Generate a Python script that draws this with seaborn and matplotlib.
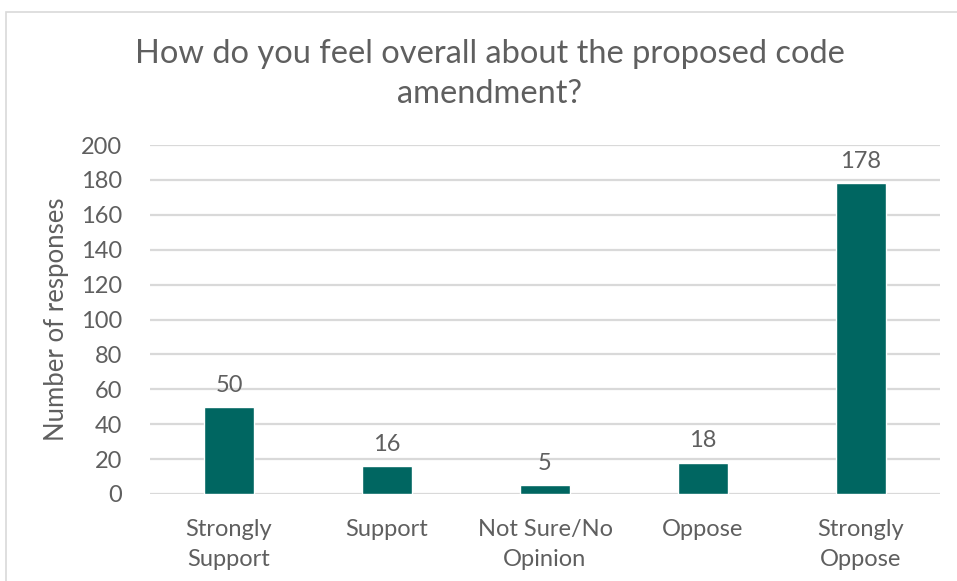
import matplotlib
matplotlib.use("Agg")
import matplotlib.pyplot as plt
from matplotlib.patches import Rectangle
import seaborn as sns
import pandas as pd

categories = ["Strongly\nSupport", "Support", "Not Sure/No\nOpinion", "Oppose", "Strongly\nOppose"]
responses = [50, 16, 5, 18, 178]
y_ticks = [0, 20, 40, 60, 80, 100, 120, 140, 160, 180, 200]

df = pd.DataFrame({"category": categories, "responses": responses})

sns.set_theme(style="white")
plt.rcParams["font.family"] = ["Lato", "DejaVu Sans"]

text_color = "#5f5f5f"
grid_color = "#d9d9d9"
bar_color = "#006661"
fs = 17

fig = plt.figure(figsize=(9.57, 5.81), dpi=100)
ax = fig.add_axes([150 / 957, 1 - 494 / 581, 790 / 957, 349 / 581])

sns.barplot(data=df, x="category", y="responses", color=bar_color,
            width=0.32, saturation=1, ax=ax)

ax.set_ylim(0, 200)
ax.set_yticks(y_ticks)
ax.set_yticklabels([str(t) for t in y_ticks], fontsize=fs, color=text_color)
ax.set_xticklabels(categories, fontsize=fs, color=text_color, linespacing=1.55)
ax.tick_params(axis="x", length=0, pad=18)
ax.tick_params(axis="y", length=0, pad=20)
ax.set_xlabel("")
ax.set_ylabel("Number of responses", fontsize=18.5, color=text_color)
ax.yaxis.set_label_coords(-0.103, 0.5)

ax.grid(axis="y", color=grid_color, linewidth=1.6)
ax.set_axisbelow(True)
for s in ax.spines.values():
    s.set_visible(False)

for p, v in zip(ax.patches, responses):
    ax.annotate(str(v), (p.get_x() + p.get_width() / 2, v), xytext=(0, 8),
                textcoords="offset points", ha="center", va="bottom",
                fontsize=fs, color=text_color)

fig.text(490 / 957, 1 - 74 / 581,
         "How do you feel overall about the proposed code\namendment?",
         ha="center", va="center", fontsize=23.5, color=text_color,
         linespacing=1.4)

# light outer frame around the chart area
fig.patches.append(Rectangle((6 / 957, -0.05), 1.0, 1 - 12 / 581 + 0.05,
                             transform=fig.transFigure, fill=False,
                             edgecolor=grid_color, linewidth=1.2))

fig.savefig("out.png", dpi=100)
